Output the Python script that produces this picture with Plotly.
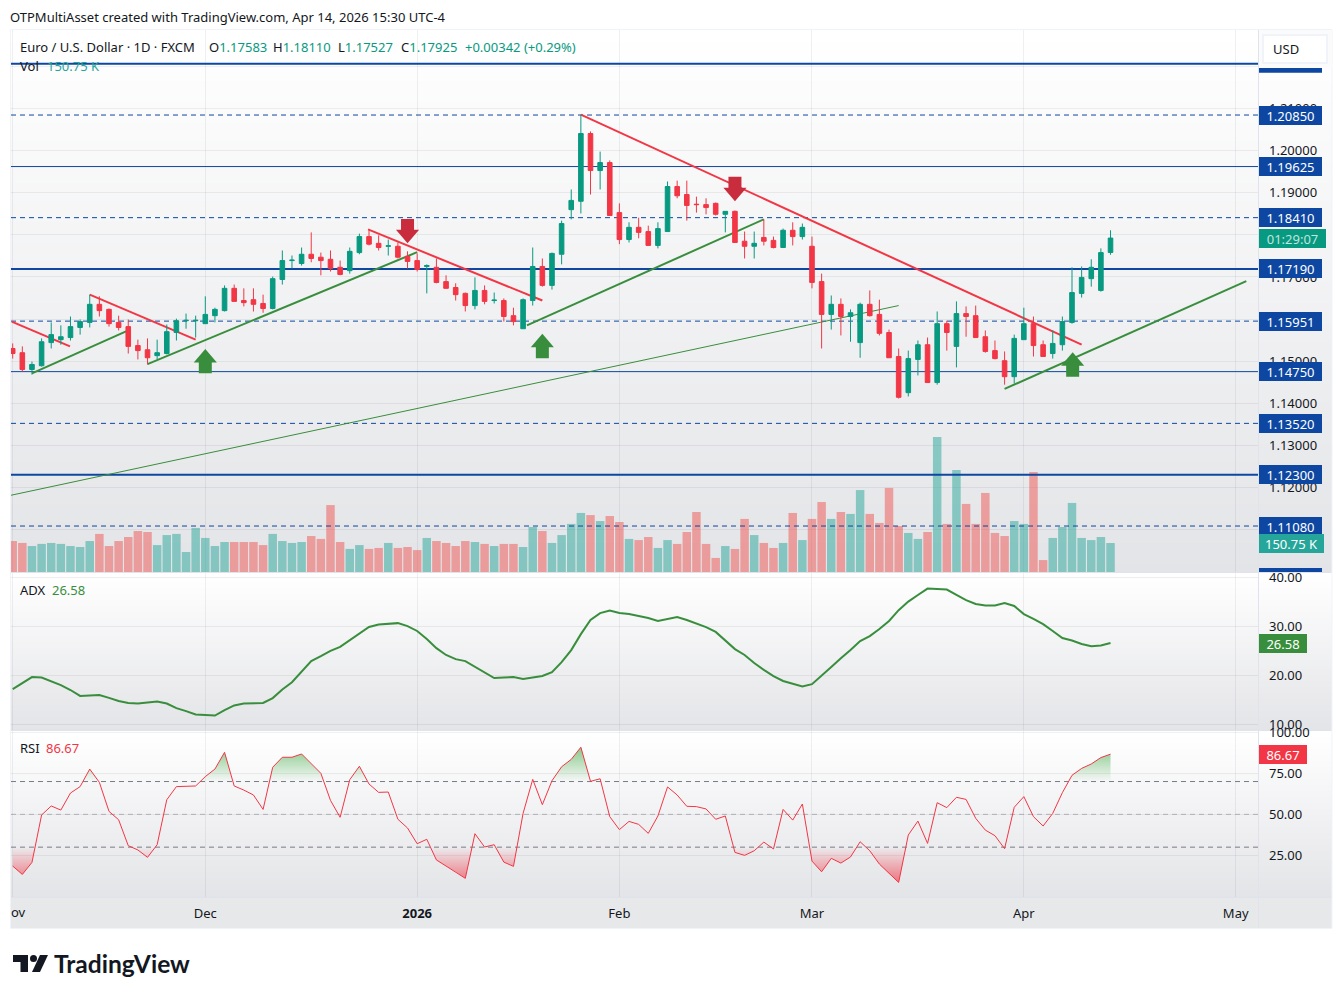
import plotly.graph_objects as go

# Daily EUR/USD candles, one entry per session (oldest first)
opens = [1.1530,1.1520,1.1480,1.1489,1.1544,1.1551,1.1556,1.1580,1.1592,1.1635,
         1.1623,1.1592,1.1582,1.1537,1.1527,1.1513,1.1518,1.1568,1.1596,1.1596,
         1.1589,1.1608,1.1620,1.1673,1.1644,1.1646,1.1637,1.1625,1.1694,1.1739,
         1.1732,1.1754,1.1747,1.1742,1.1723,1.1715,1.1758,1.1796,1.1780,1.1773,
         1.1773,1.1749,1.1739,1.1725,1.1723,1.1689,1.1675,1.1661,1.1632,1.1668,
         1.1644,1.1644,1.1608,1.1577,1.1644,1.1725,1.1680,1.1754,1.1860,1.1880,
         1.2041,1.1953,1.1972,1.1853,1.1789,1.1818,1.1808,1.1775,1.1808,1.1915,
         1.1896,1.1873,1.1872,1.1875,1.1849,1.1856,1.1785,1.1773,1.1794,1.1787,
         1.1770,1.1811,1.1796,1.1773,1.1689,1.1611,1.1635,1.1606,1.1544,1.1635,
         1.1611,1.1568,1.1511,1.1425,1.1504,1.1539,1.1449,1.1589,1.1535,1.1613,
         1.1608,1.1558,1.1525,1.1501,1.1463,1.1551,1.1589,1.1539,1.1518,1.1539,
         1.1592,1.1661,1.1696,1.1668,1.17583]
highs = [1.1542,1.1535,1.1499,1.1554,1.1592,1.1585,1.1606,1.1599,1.1658,1.1654,
         1.1625,1.1608,1.1599,1.1551,1.1554,1.1551,1.1587,1.1601,1.1613,1.1608,
         1.1654,1.1627,1.1680,1.1682,1.1673,1.1673,1.1658,1.1701,1.1763,1.1751,
         1.1770,1.1806,1.1758,1.1763,1.1739,1.1770,1.1803,1.1811,1.1799,1.1789,
         1.1782,1.1761,1.1756,1.1730,1.1744,1.1704,1.1685,1.1663,1.1699,1.1680,
         1.1663,1.1649,1.1627,1.1649,1.1770,1.1744,1.1758,1.1834,1.1908,1.2086,
         1.2046,1.1998,1.1977,1.1875,1.1830,1.1841,1.1822,1.1830,1.1927,1.1929,
         1.1929,1.1891,1.1887,1.1877,1.1856,1.1858,1.1808,1.1808,1.1837,1.1796,
         1.1815,1.1830,1.1827,1.1796,1.1708,1.1656,1.1649,1.1623,1.1639,1.1668,
         1.1646,1.1575,1.1530,1.1525,1.1549,1.1556,1.1618,1.1596,1.1642,1.1630,
         1.1632,1.1573,1.1549,1.1523,1.1563,1.1627,1.1606,1.1549,1.1573,1.1606,
         1.1723,1.1725,1.1742,1.1768,1.18110]
lows = [1.1506,1.1475,1.1468,1.1487,1.1530,1.1539,1.1549,1.1563,1.1580,1.1606,
        1.1582,1.1573,1.1518,1.1504,1.1492,1.1504,1.1516,1.1549,1.1577,1.1556,
        1.1589,1.1592,1.1618,1.1642,1.1630,1.1618,1.1615,1.1623,1.1682,1.1720,
        1.1727,1.1735,1.1704,1.1713,1.1704,1.1708,1.1754,1.1775,1.1763,1.1751,
        1.1744,1.1720,1.1713,1.1661,1.1685,1.1673,1.1644,1.1618,1.1623,1.1635,
        1.1637,1.1594,1.1585,1.1577,1.1632,1.1677,1.1670,1.1730,1.1837,1.1851,
        1.1896,1.1908,1.1846,1.1778,1.1782,1.1792,1.1775,1.1768,1.1808,1.1887,
        1.1834,1.1853,1.1849,1.1846,1.1806,1.1782,1.1744,1.1744,1.1775,1.1768,
        1.1770,1.1775,1.1789,1.1673,1.1530,1.1575,1.1561,1.1546,1.1508,1.1606,
        1.1561,1.1508,1.1411,1.1416,1.1466,1.1449,1.1444,1.1525,1.1485,1.1558,
        1.1556,1.1520,1.1504,1.1444,1.1447,1.1551,1.1511,1.1511,1.1506,1.1525,
        1.1589,1.1651,1.1677,1.1665,1.17527]
closes = [1.1518,1.1480,1.1492,1.1546,1.1563,1.1558,1.1582,1.1594,1.1635,1.1620,
          1.1589,1.1580,1.1535,1.1525,1.1508,1.1520,1.1570,1.1596,1.1597,1.1597,
          1.1611,1.1623,1.1673,1.1642,1.1639,1.1635,1.1625,1.1696,1.1739,1.1740,
          1.1754,1.1744,1.1739,1.1720,1.1706,1.1761,1.1796,1.1778,1.1770,1.1774,
          1.1747,1.1737,1.1718,1.1727,1.1687,1.1673,1.1658,1.1632,1.1668,1.1642,
          1.1645,1.1606,1.1594,1.1646,1.1725,1.1680,1.1756,1.1827,1.1882,1.2041,
          1.1953,1.1972,1.1846,1.1789,1.1818,1.1806,1.1775,1.1815,1.1915,1.1893,
          1.1870,1.1872,1.1865,1.1849,1.1856,1.1782,1.1773,1.1780,1.1785,1.1770,
          1.1811,1.1796,1.1818,1.1687,1.1611,1.1635,1.1606,1.1615,1.1635,1.1608,
          1.1566,1.1508,1.1414,1.1506,1.1539,1.1449,1.1589,1.1568,1.1613,1.1606,
          1.1556,1.1523,1.1506,1.1463,1.1554,1.1589,1.1537,1.1511,1.1542,1.1594,
          1.1663,1.1699,1.1723,1.1758,1.17925]

# Session volume in thousands
volume_k = [161,151,135,146,151,146,135,130,161,198,135,161,182,213,208,140,192,198,104,229,
            177,135,156,156,156,156,140,198,161,151,156,187,172,348,156,120,140,120,125,151,
            125,130,114,177,161,151,135,161,156,146,135,146,146,130,234,213,151,192,250,307,
            296,265,291,260,172,166,182,125,166,146,208,312,146,73,135,120,276,192,151,125,
            151,307,166,276,364,276,312,302,426,302,255,437,239,203,172,208,702,250,530,354,
            250,411,203,187,265,250,520,62,177,234,359,177,166,182,150.75]

adx_values = [17.2,18.4,19.65,19.55,18.8,18.0,17.0,15.8,15.9,16.0,15.4,14.75,14.35,14.25,14.45,14.65,14.25,13.3,12.7,12.0,
              11.9,11.8,12.9,13.85,14.25,14.35,14.35,15.35,17.1,18.6,20.7,22.9,23.9,25.0,25.8,27.2,28.5,29.85,30.35,30.55,
              30.65,30.05,29.05,27.4,25.55,24.15,23.3,22.9,21.7,20.5,19.45,19.55,19.65,19.25,19.55,19.85,20.65,22.7,25.15,28.4,
              31.3,32.7,33.2,32.7,32.5,32.1,31.7,31.1,31.5,31.9,31.3,30.65,29.85,28.85,27.0,25.35,24.15,22.5,21.1,19.85,
              18.85,18.2,17.7,18.2,20.05,21.7,23.5,25.15,27.0,28.0,29.45,31.1,33.3,35.05,36.4,37.7,37.6,37.5,36.4,35.35,
              34.55,34.25,34.25,34.75,34.15,32.5,31.5,30.45,29.05,27.6,27.1,26.4,25.95,26.1,26.58]

rsi_values = [18.5,13.4,20.7,49.6,55.1,52.6,63,66.9,77.6,69.5,51.8,46.7,30.9,28.3,23.8,31.5,58.9,66.9,67.1,67.3,
              73,77.6,87.8,67.3,64.8,61.8,53,78.7,84.8,84.8,86.8,80.7,75,58.5,48.2,71.1,79.3,68.5,63.4,63.6,
              47,41.7,32.1,34.8,22.2,18.5,15,11,38.2,30.1,31.5,20.9,18.3,50.6,71.3,55.9,70.5,79,83.5,90.9,
              70.1,71.7,48.6,40.7,45.7,43.9,38.4,49,66.7,61.8,54.9,54.7,53.3,47,49,26.8,25,27.8,33.1,28.9,
              53,46.5,56.3,21.5,15,23.2,20.3,24,33.3,27.8,19.7,14,8.5,37.4,45.9,32.3,57.1,54.1,60.4,59.1,
              47.6,40.4,37,29.1,54.3,60.8,48.6,42.9,50.6,63.2,73.8,78,80.7,84.6,86.67]

assert len(opens) == len(highs) == len(lows) == len(closes) == len(volume_k) == len(adx_values) == len(rsi_values) == 115
bar_index = list(range(len(closes)))

# Horizontal support and resistance levels by line style
levels_thick = [1.2207, 1.1719, 1.1230]
levels_thin = [1.19625, 1.1475]
levels_dashed = [1.2085, 1.1841, 1.15951, 1.1352, 1.1108]
tagged_levels = [1.2085, 1.19625, 1.1841, 1.1719, 1.15951, 1.1475, 1.1352, 1.1230, 1.1108]

# Trendlines: bar index and price of each end
red_trends = [([-0.1, 5.95], [1.1594, 1.1535]),
              ([8, 19], [1.1658, 1.1551]),
              ([36.9, 55], [1.1813, 1.1644]),
              ([59, 111], [1.2086, 1.1539])]
green_trends = [([2, 12], [1.1471, 1.1573]),
                ([14, 42], [1.1493, 1.1759]),
                ([53.4, 78], [1.1585, 1.1837]),
                ([103, 128.1], [1.1434, 1.1690])]
long_green_trend = ([-0.2, 92], [1.1181, 1.1632])

# Signal arrows: bar index and tip price
up_arrows = [(20, 1.1529), (55, 1.1565), (110.07, 1.1521)]
down_arrows = [(41, 1.1780), (75, 1.1880)]

# Time axis
time_tick_index = [0, 20, 42, 63, 83, 105, 127]
time_tick_text = ["", "Dec", "<b>2026</b>", "Feb", "Mar", "Apr", "May"]

price_ticks = [1.10, 1.11, 1.12, 1.13, 1.14, 1.15, 1.16, 1.17, 1.18, 1.19, 1.20, 1.21, 1.22]
adx_ticks = [10, 20, 30, 40]
rsi_ticks = [25, 50, 75, 100]

WIDTH, HEIGHT = 1343, 997
FONT = "Noto Sans"
LOGO_FONT = "Lato"
INK = "#131722"
UP = "#089981"
DOWN = "#f23645"
LEVEL_BLUE = "#0d47a1"
GREEN = "#388e3c"
ARROW_RED = "#c92c3c"
GRID = "rgba(42,46,57,0.07)"
EDGE = "#e0e3eb"

PLOT_L, PLOT_R = 11, 1258
FRAME_R = 1332
MAIN = (30, 572)
ADX = (573, 730)
RSI = (731, 897)
FRAME_B = 928


def fx(px):
    return px / WIDTH


def fy(px):
    return 1 - px / HEIGHT


def mix(t, top=(255, 255, 255), bottom=(227, 228, 231)):
    return "rgb(%d,%d,%d)" % tuple(round(a + (b - a) * t) for a, b in zip(top, bottom))


def rect(x0, y0, x1, y1, fill, layer="below", line=None):
    return dict(type="rect", xref="paper", yref="paper", x0=fx(x0), x1=fx(x1), y0=fy(y0), y1=fy(y1),
                fillcolor=fill, layer=layer, line=line or dict(width=0))


def hline_px(x0, y, x1, color=EDGE):
    return dict(type="line", xref="paper", yref="paper", x0=fx(x0), x1=fx(x1), y0=fy(y), y1=fy(y),
                layer="below", line=dict(color=color, width=1))


def vline_px(x, y0, y1, color=EDGE):
    return dict(type="line", xref="paper", yref="paper", x0=fx(x), x1=fx(x), y0=fy(y0), y1=fy(y1),
                layer="below", line=dict(color=color, width=1))


shapes = []
# Each pane fades from white at the top to pale grey at the bottom
for top, bottom in (MAIN, ADX, RSI):
    step = 3
    for y in range(top, bottom, step):
        t = (y - top) / (bottom - top)
        shapes.append(rect(PLOT_L, y, FRAME_R, min(y + step + 1, bottom), mix(t)))
shapes.append(rect(PLOT_L, RSI[1], FRAME_R, FRAME_B, "#e7e8ea"))

shapes += [hline_px(PLOT_L, 572.5, FRAME_R), hline_px(PLOT_L, 730.5, FRAME_R),
           hline_px(PLOT_L, 897.5, FRAME_R), vline_px(1258.5, 30, FRAME_B),
           rect(10.5, 29.5, FRAME_R, FRAME_B + 0.5, "rgba(0,0,0,0)", line=dict(color="#f0f3fa", width=1))]

# Currency button over the top of the price scale, and the clipped level tags
shapes += [rect(1259, 30, FRAME_R, 68, "#fbfbfc", layer="above"),
           rect(1263, 35, 1327, 63, "#ffffff", layer="above", line=dict(color="#f0f3fa", width=2)),
           rect(1259, 68, 1322, 72.7, LEVEL_BLUE, layer="above"),
           rect(1259, 568, 1322, 572, LEVEL_BLUE, layer="above")]

# Logo mark
shapes += [
    dict(type="path", xref="paper", yref="paper", fillcolor=INK, line=dict(width=0), layer="above",
         path="M %f %f L %f %f L %f %f L %f %f L %f %f L %f %f Z" % (
             fx(13), fy(955), fx(28), fy(955), fx(28), fy(972), fx(20.5), fy(972), fx(20.5), fy(962), fx(13), fy(962))),
    dict(type="circle", xref="paper", yref="paper", fillcolor=INK, line=dict(width=0), layer="above",
         x0=fx(30), x1=fx(37), y0=fy(955), y1=fy(962)),
    dict(type="path", xref="paper", yref="paper", fillcolor=INK, line=dict(width=0), layer="above",
         path="M %f %f L %f %f L %f %f L %f %f Z" % (
             fx(40), fy(955), fx(48), fy(955), fx(40), fy(972), fx(32), fy(972))),
]

# Bars 0..N sit at 12.7 px + 9.63 px per bar
X_RANGE = [(PLOT_L - 12.7) / 9.63, (PLOT_R - 12.7) / 9.63]
PRICE_RANGE = [1.09987, 1.22871]
VOLUME_RANGE = [0, 2818]
ADX_RANGE = [8.84, 40.88]
RSI_RANGE = [-0.37, 100.8]

fig = go.Figure()

# Volume sits at the back of the price pane
vol_colors = ["rgba(38,166,154,0.5)" if c >= o else "rgba(239,83,80,0.5)" for o, c in zip(opens, closes)]
fig.add_trace(go.Bar(x=bar_index, y=volume_k, marker=dict(color=vol_colors, line=dict(width=0)),
                     xaxis="x", yaxis="y", hoverinfo="skip"))

# Levels and trendlines lie behind the candles but over the volume
for lv in levels_thick:
    fig.add_trace(go.Scatter(x=X_RANGE, y=[lv, lv], mode="lines", xaxis="x", yaxis="y2",
                             line=dict(color=LEVEL_BLUE, width=2), hoverinfo="skip"))
for lv in levels_thin:
    fig.add_trace(go.Scatter(x=X_RANGE, y=[lv, lv], mode="lines", xaxis="x", yaxis="y2",
                             line=dict(color=LEVEL_BLUE, width=1), hoverinfo="skip"))
for lv in levels_dashed:
    fig.add_trace(go.Scatter(x=X_RANGE, y=[lv, lv], mode="lines", xaxis="x", yaxis="y2",
                             line=dict(color=LEVEL_BLUE, width=1, dash="5px,4px"), hoverinfo="skip"))
fig.add_trace(go.Scatter(x=long_green_trend[0], y=long_green_trend[1], mode="lines", xaxis="x", yaxis="y2",
                         line=dict(color=GREEN, width=1), hoverinfo="skip"))
for xs, ys in green_trends:
    fig.add_trace(go.Scatter(x=xs, y=ys, mode="lines", xaxis="x", yaxis="y2",
                             line=dict(color=GREEN, width=2), hoverinfo="skip"))
for xs, ys in red_trends:
    fig.add_trace(go.Scatter(x=xs, y=ys, mode="lines", xaxis="x", yaxis="y2",
                             line=dict(color=DOWN, width=2), hoverinfo="skip"))

fig.add_trace(go.Candlestick(
    x=bar_index, open=opens, high=highs, low=lows, close=closes, xaxis="x", yaxis="y3",
    whiskerwidth=0,
    increasing=dict(line=dict(color=UP, width=1), fillcolor=UP),
    decreasing=dict(line=dict(color=DOWN, width=1), fillcolor=DOWN),
    hoverinfo="skip"))

HEAD_HALF, SHAFT_HALF = 1.2, 0.675
HEAD_H, TOTAL_H = 0.0032, 0.0058


def arrow(idx, tip, direction):
    d = direction
    xs = [idx, idx + HEAD_HALF, idx + SHAFT_HALF, idx + SHAFT_HALF, idx - SHAFT_HALF, idx - SHAFT_HALF, idx - HEAD_HALF, idx]
    ys = [tip, tip - d * HEAD_H, tip - d * HEAD_H, tip - d * TOTAL_H, tip - d * TOTAL_H, tip - d * HEAD_H, tip - d * HEAD_H, tip]
    return xs, ys


for idx, tip in up_arrows:
    xs, ys = arrow(idx, tip, 1)
    fig.add_trace(go.Scatter(x=xs, y=ys, mode="lines", fill="toself", fillcolor=GREEN, xaxis="x", yaxis="y3",
                             line=dict(color=GREEN, width=0), hoverinfo="skip"))
for idx, tip in down_arrows:
    xs, ys = arrow(idx, tip, -1)
    fig.add_trace(go.Scatter(x=xs, y=ys, mode="lines", fill="toself", fillcolor=ARROW_RED, xaxis="x", yaxis="y3",
                             line=dict(color=ARROW_RED, width=0), hoverinfo="skip"))

# ADX pane
fig.add_trace(go.Scatter(x=bar_index, y=adx_values, mode="lines", xaxis="x", yaxis="y4",
                         line=dict(color=GREEN, width=2), hoverinfo="skip"))


def band(xs, ys, level, above):
    """Outline of the area between a series and a level, on one side of the level."""
    out_x, out_y = [], []
    inside = (lambda v: v >= level) if above else (lambda v: v <= level)
    for i, (x, y) in enumerate(zip(xs, ys)):
        if i and inside(y) != inside(ys[i - 1]):
            t = (level - ys[i - 1]) / (y - ys[i - 1])
            out_x.append(xs[i - 1] + t * (x - xs[i - 1]))
            out_y.append(level)
        out_x.append(x)
        out_y.append(y if inside(y) else level)
    return out_x + [out_x[-1], out_x[0]], out_y + [level, level]


# RSI pane: guide lines, overbought and oversold shading, then the line
for lv, col in ((70, "#787b86"), (50, "rgba(120,123,134,0.5)"), (30, "#787b86")):
    fig.add_trace(go.Scatter(x=X_RANGE, y=[lv, lv], mode="lines", xaxis="x", yaxis="y5",
                             line=dict(color=col, width=1, dash="5px,4px"), hoverinfo="skip"))
bx, by = band(bar_index, rsi_values, 70, True)
fig.add_trace(go.Scatter(x=bx, y=by, mode="none", fill="toself", xaxis="x", yaxis="y5", hoverinfo="skip",
                         fillgradient=dict(type="vertical", start=70, stop=95,
                                           colorscale=[[0, "rgba(76,175,80,0)"], [1, "rgba(76,175,80,0.8)"]])))
bx, by = band(bar_index, rsi_values, 30, False)
fig.add_trace(go.Scatter(x=bx, y=by, mode="none", fill="toself", xaxis="x", yaxis="y5", hoverinfo="skip",
                         fillgradient=dict(type="vertical", start=5, stop=30,
                                           colorscale=[[0, "rgba(242,54,69,0.75)"], [1, "rgba(242,54,69,0)"]])))
fig.add_trace(go.Scatter(x=bar_index, y=rsi_values, mode="lines", xaxis="x", yaxis="y5",
                         line=dict(color=DOWN, width=1), hoverinfo="skip"))


def text(x, y, s, color=INK, size=13, family=FONT):
    return dict(xref="paper", yref="paper", x=fx(x), y=fy(y), text=s, showarrow=False, xanchor="left",
                yanchor="middle", borderpad=0, borderwidth=0,
                font=dict(family=family, size=size, color=color))


def tag(value, yref, s, color, width, text_color="#ffffff"):
    return dict(xref="paper", yref=yref, x=fx(1259), y=value, text=s, showarrow=False, xanchor="left",
                yanchor="middle", width=width, height=19, align="center", valign="middle", bgcolor=color,
                borderpad=0, borderwidth=0, font=dict(family=FONT, size=13, color=text_color))


annotations = [
    text(10, 17, "OTPMultiAsset created with TradingView.com, Apr 14, 2026 15:30 UTC-4"),
    text(20, 47, "Euro / U.S. Dollar · 1D · FXCM"),
    text(209, 47, "O<span style='color:%s'>%.5f</span>" % (UP, opens[-1])),
    text(273, 47, "H<span style='color:%s'>%.5f</span>" % (UP, highs[-1])),
    text(338, 47, "L<span style='color:%s'>%.5f</span>" % (UP, lows[-1])),
    text(401, 47, "C<span style='color:%s'>%.5f</span>" % (UP, closes[-1])),
    text(465, 47, "+0.00342 (+0.29%)", color=UP),
    text(20, 66, "Vol"),
    text(47, 66, "%.2f K" % volume_k[-1], color="#26a69a"),
    text(20, 590, "ADX"),
    text(52, 590, "%.2f" % adx_values[-1], color=GREEN),
    text(20, 748, "RSI"),
    text(46, 748, "%.2f" % rsi_values[-1], color=DOWN),
    text(11, 912, "ov"),
    text(1273, 49, "USD"),
    text(54, 963, "<b>TradingView</b>", size=24.6, family=LOGO_FONT),
]
annotations += [tag(lv, "y2", "%.5f" % lv, LEVEL_BLUE, 63) for lv in tagged_levels]
annotations += [
    tag(closes[-1], "y2", "01:29:07", UP, 67, "rgba(255,255,255,0.75)"),
    tag(volume_k[-1], "y", "%.2f K" % volume_k[-1], "#26a69a", 65),
    tag(adx_values[-1], "y4", "%.2f" % adx_values[-1], GREEN, 48),
    tag(rsi_values[-1], "y5", "%.2f" % rsi_values[-1], DOWN, 48),
]

tick_font = dict(family=FONT, size=13, color=INK)


def right_axis(domain, rng, tickvals=None, ticktext=None, grid=True, labels=True, overlay=None):
    ax = dict(domain=[fy(domain[1]), fy(domain[0])], range=rng, side="right", anchor="x", zeroline=False,
              showgrid=grid, gridcolor=GRID, gridwidth=1, ticks="", showline=False, fixedrange=True,
              showticklabels=labels, tickfont=tick_font, ticklabelstandoff=10)
    if tickvals is not None:
        ax.update(tickmode="array", tickvals=tickvals, ticktext=ticktext)
    if overlay:
        ax["overlaying"] = overlay
    return ax


fig.update_layout(
    width=WIDTH, height=HEIGHT, autosize=False,
    margin=dict(l=0, r=0, t=0, b=0, pad=0, autoexpand=False),
    paper_bgcolor="#ffffff", plot_bgcolor="rgba(0,0,0,0)",
    showlegend=False, hovermode=False, dragmode=False,
    bargap=0.12, boxgap=0.32,
    font=dict(family=FONT, color=INK),
    shapes=shapes, annotations=annotations,
    xaxis=dict(domain=[fx(PLOT_L), fx(PLOT_R)], range=X_RANGE, anchor="free", position=fy(RSI[1]),
               tickmode="array", tickvals=time_tick_index, ticktext=time_tick_text, tickfont=tick_font,
               showgrid=True, gridcolor=GRID, gridwidth=1, zeroline=False, ticks="", showline=False,
               fixedrange=True, rangeslider=dict(visible=False), ticklabelstandoff=7),
    yaxis=right_axis(MAIN, VOLUME_RANGE, grid=False, labels=False),
    yaxis2=right_axis(MAIN, PRICE_RANGE, price_ticks,
                      ["" if p == 1.10 else "%.5f" % p for p in price_ticks], overlay="y"),
    yaxis3=right_axis(MAIN, PRICE_RANGE, grid=False, labels=False, overlay="y"),
    yaxis4=right_axis(ADX, ADX_RANGE, adx_ticks, ["%.2f" % v for v in adx_ticks]),
    yaxis5=right_axis(RSI, RSI_RANGE, rsi_ticks, ["%.2f" % v for v in rsi_ticks]),
)

fig.write_html("out.html", config=dict(displayModeBar=False))
